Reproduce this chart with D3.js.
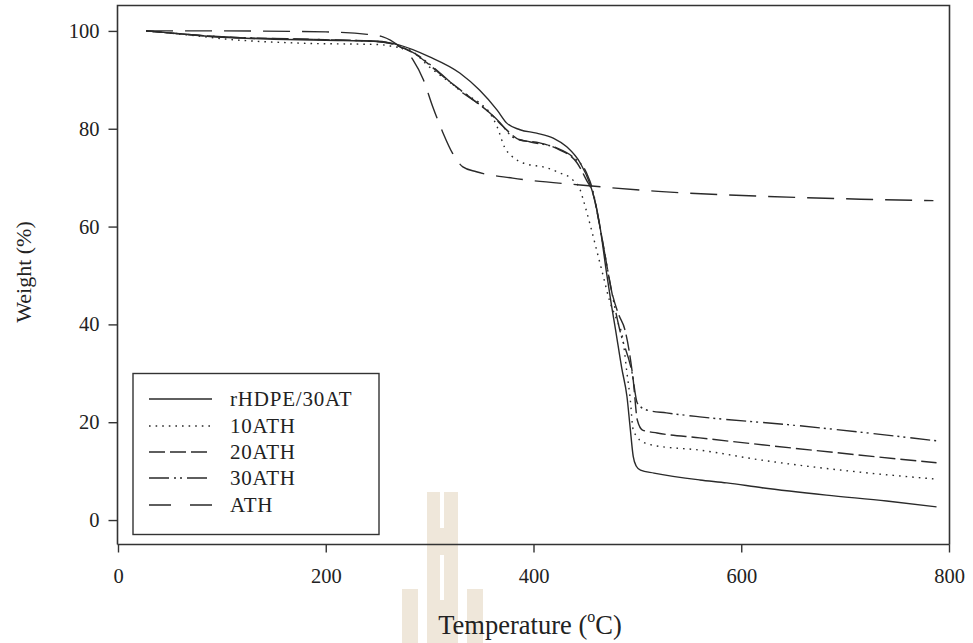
<!DOCTYPE html>
<html><head><meta charset="utf-8">
<script src="https://cdn.jsdelivr.net/npm/d3@7"></script>
<style>body{margin:0;background:#fff}svg{display:block}</style>
</head><body>
<svg id="c" width="973" height="643"></svg>
<script>
// ---- data ----
const seriesNames = ["rHDPE/30AT","10ATH","20ATH","30ATH","ATH"];
const xTicks = [0,200,400,600,800];
const yTicks = [0,20,40,60,80,100];

const rhdpeT = [27,60,100,150,200,250,271,300,329,348,365,374,387,403,419,432,445,454,459,464,470,475,479,485,490,493,496,499,503,516,560,586,620,682,740,788];
const rhdpeW = [100,99.4,98.7,98.3,98.1,97.9,97.1,94.7,91.4,87.9,83.8,81.2,79.8,79.1,78.1,76.3,73,68.9,65.4,60,51,44,38.9,31,25.2,19,13,11,10.2,9.6,8.2,7.6,6.6,5.1,3.9,2.7];

const ath10T = [27,57,111,175,252,265,281,300,320,339,348,358,365,372,380,390,413,425,438,445,448,455,461,467,473,480,486,490,493,496,500,502,515,560,618,714,786];
const ath10W = [100,99.4,98.2,97.5,97.2,96.8,96.1,92.6,89.4,86.5,85.3,83.2,80.4,76.3,74.2,73,72,71,69.5,67.5,65.4,60,55,50,45,41,37,30,25,18.4,17,16.4,15.3,14.3,12.3,9.8,8.4];

const ath20T = [27,100,200,252,284,317,342,358,371,387,406,425,442,451,457,463,469,475,482,488,496,500,505,519,560,650,788];
const ath20W = [100,98.8,98.2,97.8,95.5,90,85.9,83.2,80.4,77.7,77.1,75.7,73,69.5,66.9,61,54,47,42,38.9,28.6,20.4,18.4,17.8,16.8,14.7,11.7];

const ath30T = [27,100,200,252,288,310,332,351,368,380,397,422,438,451,457,463,469,475,483,495,500,509,528,560,650,788];
const ath30W = [100,98.8,98.2,97.8,95.1,91.4,87.3,84.5,81.2,78.3,77.3,76.1,74.2,71,67.5,61,54,47,38.9,30,23.9,22.5,21.9,21.1,19.4,16.2];

const athT = [27,100,200,240,255,270,284,294,303,313,322,332,345,380,445,520,620,715,785];
const athW = [100,100,99.8,99.3,98.8,97,94.1,90,84.5,79.1,75,72.2,71.2,69.9,68.5,67.2,66.2,65.6,65.3];

// ---- build ----
const series = [
  {name: seriesNames[0], T: rhdpeT, W: rhdpeW, dash: null, ldash: null},
  {name: seriesNames[1], T: ath10T, W: ath10W, dash: "1.6,5", ldash: "1.6,5"},
  {name: seriesNames[2], T: ath20T, W: ath20W, dash: "16,5", ldash: "16,5"},
  {name: seriesNames[3], T: ath30T, W: ath30W, dash: "20,4,2,4,2,5", ldash: "20,5,2,4,2,5"},
  {name: seriesNames[4], T: athT, W: athW, dash: "27,12", ldash: "22,19"}
];

const svg = d3.select("#c");
svg.append("rect").attr("width",973).attr("height",643).attr("fill","#fff");

// watermark (background decoration)
const wm = svg.append("g").attr("fill","#efe7da");
wm.append("rect").attr("x",427).attr("y",492).attr("width",31).attr("height",151);
wm.append("rect").attr("x",402).attr("y",589).attr("width",16).attr("height",54);
wm.append("rect").attr("x",467).attr("y",589).attr("width",16).attr("height",54);
const wmw = svg.append("g").attr("fill","#fff");
wmw.append("rect").attr("x",440).attr("y",492).attr("width",4).attr("height",36);
wmw.append("rect").attr("x",440).attr("y",555).attr("width",4).attr("height",45);

const x = d3.scaleLinear().domain([0,800]).range([118,949]);
const y = d3.scaleLinear().domain([-5,105.3]).range([544.5,5]);

const ink = "#2a2a2a";
const font = "'Liberation Serif','Times New Roman',serif";

// frame
svg.append("path")
  .attr("d", `M117.5,544.5V5.5H949.5V544.5`)
  .attr("fill","none").attr("stroke","#333").attr("stroke-width",1.6);

// axes
const ya = svg.append("g").attr("transform","translate(117.5,0)")
  .call(d3.axisLeft(y).tickValues(yTicks).tickSize(9).tickPadding(9));
ya.select(".domain").remove();
const xa = svg.append("g").attr("transform","translate(0,544.5)")
  .call(d3.axisBottom(x).tickValues(xTicks).tickSize(8).tickPadding(16));
xa.select(".domain").attr("stroke","#333").attr("stroke-width",1.6).attr("d","M117.5,0H949.5");
[ya,xa].forEach(a=>{
  a.selectAll(".tick line").attr("stroke","#333").attr("stroke-width",1.4);
  a.selectAll("text").attr("font-family",font).attr("font-size",20.5).attr("fill","#222");
});

// lines
const line = d3.line().x(d=>x(d[0])).y(d=>y(d[1])).curve(d3.curveMonotoneX);
series.forEach(s=>{
  const pts = s.T.map((t,i)=>[t,s.W[i]]);
  svg.append("path").datum(pts).attr("d",line)
    .attr("fill","none").attr("stroke",ink).attr("stroke-width",1.4)
    .attr("stroke-dasharray", s.dash);
});

// legend
svg.append("rect").attr("x",133).attr("y",373.5).attr("width",246).attr("height",161)
  .attr("fill","none").attr("stroke","#333").attr("stroke-width",1.4);
const rowY = [399,426,452,478,505];
series.forEach((s,i)=>{
  svg.append("line").attr("x1",149).attr("x2",212).attr("y1",rowY[i]).attr("y2",rowY[i])
    .attr("stroke",ink).attr("stroke-width",1.4).attr("stroke-dasharray",s.ldash);
  svg.append("text").attr("x",230).attr("y",rowY[i]+7).text(s.name)
    .attr("font-family",font).attr("font-size",21).attr("letter-spacing",0.8).attr("fill","#222");
});

// axis titles
const xt = svg.append("text").attr("x",530).attr("y",634).attr("text-anchor","middle")
  .attr("font-family",font).attr("font-size",26.5).attr("fill","#222");
xt.append("tspan").text("Temperature (");
xt.append("tspan").text("o").attr("font-size",16).attr("dy",-12);
xt.append("tspan").text("C)").attr("dy",12);

svg.append("text").attr("transform","translate(31,272) rotate(-90)").attr("text-anchor","middle")
  .attr("font-family",font).attr("font-size",22).attr("fill","#222").text("Weight (%)");
</script>
</body></html>
